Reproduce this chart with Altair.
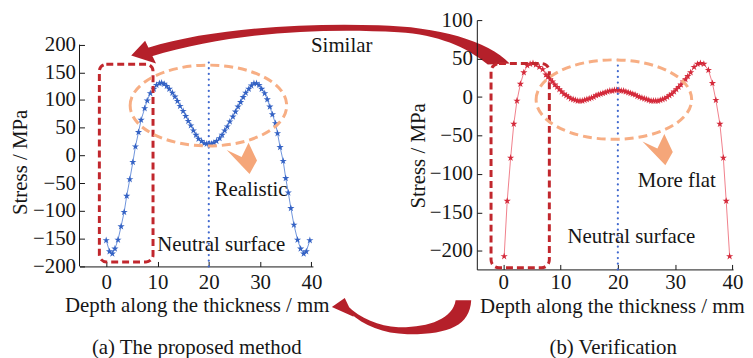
import altair as alt
import pandas as pd

# ---------------- data ----------------
left_depth = [0.0, 0.65, 1.2, 1.7, 2.3, 2.9, 3.5, 4.0, 4.6, 5.2, 5.7, 6.3, 6.8, 7.5, 8.0, 8.6,
              9.3, 9.8, 10.4, 10.8, 11.3, 11.8, 12.3, 12.9, 13.4, 13.9, 14.4, 15.0, 15.5, 16.0,
              16.5, 17.0, 17.5, 18.0, 18.6, 19.1, 19.6, 20.1, 20.5, 21.0, 21.5, 22.1, 22.6, 23.1,
              23.6, 24.1, 24.7, 25.2, 25.7, 26.2, 26.7, 27.2, 27.8, 28.3, 28.8, 29.3, 29.8, 30.3,
              30.9, 31.4, 31.9, 32.4, 33.0, 33.4, 33.9, 34.5, 35.0, 35.5, 36.0, 36.6, 37.3, 37.9,
              38.5, 39.0, 39.7]
left_stress = [-153, -173, -177, -168, -152, -128, -102, -73, -43, -12, 16, 42, 64, 85, 99, 112,
               120, 127, 130, 131, 129, 125, 120, 113, 106, 98, 89, 80, 71, 62,
               54, 45, 37, 30, 26, 22, 21, 21, 21, 23, 26, 31, 37, 45,
               52, 61, 70, 79, 88, 96, 105, 113, 120, 126, 130, 130, 127, 120,
               112, 101, 88, 74, 58, 40, 15, -10, -41, -67, -95, -125, -152, -168,
               -177, -173, -153]

right_depth = [0.17, 0.7, 1.3, 1.85, 2.4, 3.0, 3.6, 4.2, 4.7, 5.2, 5.7, 6.3, 6.9, 7.45,
               7.8, 8.2, 8.6, 9.0, 9.4, 9.8, 10.2, 10.6, 11.0, 11.4, 11.8, 12.2, 12.6, 13.0,
               13.4, 13.8, 14.2, 14.6, 15.0, 15.4, 15.8, 16.2, 16.6, 17.0, 17.4, 17.8, 18.2,
               18.6, 19.0, 19.4, 19.8, 20.2, 20.6, 21.0, 21.4, 21.8, 22.2, 22.6, 23.0, 23.4,
               23.8, 24.2, 24.6, 25.0, 25.4, 25.8, 26.2, 26.6, 27.0, 27.4, 27.8, 28.2, 28.6,
               29.0, 29.4, 29.8, 30.2, 30.6, 31.0, 31.4, 31.8, 32.2,
               32.7, 33.3, 33.9, 34.4, 35.0, 35.8, 36.5, 37.1, 37.8, 38.4, 38.9, 39.5]
right_stress = [-207, -135, -79, -35, -5, 17, 32, 41, 43, 44, 42, 39, 36, 29,
                26, 23, 20, 16, 13, 10, 7, 4, 2, 0, -2, -3, -4, -5,
                -5, -5, -4, -3, -2, -1, 0, 2, 3, 4, 5, 6, 7,
                8, 8, 9, 9, 9, 8, 8, 7, 6, 5, 4, 3, 1,
                0, -1, -2, -3, -4, -5, -5, -5, -5, -4, -3, -2, 0,
                2, 4, 7, 10, 13, 16, 20, 23, 27,
                32, 39, 43, 44, 43, 35, 18, -4, -35, -79, -135, -207]

x_ticks = [0, 10, 20, 30, 40]
left_y_ticks = [-200, -150, -100, -50, 0, 50, 100, 150, 200]
right_y_ticks = [-200, -150, -100, -50, 0, 50, 100]

x_title = "Depth along the thickness / mm"
y_title = "Stress / MPa"
left_notes = ["Similar", "Realistic", "Neutral surface", "(a) The proposed method"]
left_note_x = [45.91, 28.24, 22.43, 17.65]
left_note_y = [186.8, -72.9, -172.6, -357.6]
right_notes = ["More flat", "Neutral surface", "(b) Verification"]
right_note_x = [30.28, 22.36, 19.19]
right_note_y = [-116.5, -189.7, -333.7]

# ---------------- style ----------------
FONT = "Liberation Serif"
FS = 21
INK = "#161616"
BLUE_LINE = "#6f94dc"
BLUE_STAR = "#3462c4"
RED_LINE = "#f0808b"
RED_STAR = "#d42a3b"
DOT_BLUE = "#4169cf"
DASH_RED = "#c1272d"
ORANGE = "#f7ae84"
ORANGE_FILL = "#f5a679"
ARROW = "#b5202a"
STAR_SIZE = 58

LW, LH = 235, 248
RW, RH = 258, 251
xs_L = alt.Scale(domain=[-5.2, 40.3], nice=False, zero=False)
ys_L = alt.Scale(domain=[-200, 244.1], nice=False, zero=False)
xs_R = alt.Scale(domain=[-4.6, 40.1], nice=False, zero=False)
ys_R = alt.Scale(domain=[-224, 100], nice=False, zero=False)

STAR = ("M0,-1L0.225,-0.309L0.951,-0.309L0.363,0.118L0.588,0.809L0,0.382"
        "L-0.588,0.809L-0.363,0.118L-0.951,-0.309L-0.225,-0.309Z")
CHEVRON = "M-14.5,-8.5L0.5,-1.5L7.5,-16L16,2L8.5,15.5Z"


def ellipse_path(rx, ry):
    return f"M{-rx},0A{rx},{ry} 0 1,1 {rx},0A{rx},{ry} 0 1,1 {-rx},0Z"


def rel_path(parts, ax, ay):
    out = []
    for cmd, *pts in parts:
        out.append(cmd + " ".join(f"{x - ax:.1f},{y - ay:.1f}" for x, y in pts))
    return "".join(out)


# arrow glyphs (pixel outlines, anchored at left-panel point depth=40, stress=0)
ANC_X, ANC_Y = 312.45, 153.61
TOP_ARROW = rel_path([
    ("M", (148, 45)), ("C", (210, 26), (300, 20), (380, 22.5)),
    ("C", (440, 24), (490, 38), (512, 61)), ("L", (490, 62)),
    ("C", (468, 44), (440, 32), (400, 29.5)), ("C", (320, 25), (230, 30), (151, 54)), ("Z",),
    ("M", (131, 53)), ("L", (145, 38)), ("L", (156, 61)), ("Z",),
], ANC_X, ANC_Y)
BOTTOM_ARROW = rel_path([
    ("M", (457.7, 299.3)), ("L", (473.3, 299.3)),
    ("C", (472, 325), (450, 334), (409, 333.5)), ("C", (385, 333), (365, 325), (351, 312)),
    ("L", (348, 304)), ("C", (362, 318), (380, 325), (400, 326.5)),
    ("C", (430, 327), (455, 318), (457.7, 299.3)), ("Z",),
    ("M", (333, 306)), ("L", (346, 297)), ("L", (355, 316)), ("Z",),
], ANC_X, ANC_Y)


def X(field, scale, axis=None):
    return alt.X(f"{field}:Q", scale=scale, axis=axis)


def Y(field, scale, axis=None):
    return alt.Y(f"{field}:Q", scale=scale, axis=axis)


def tick_axes(orient, offset, values):
    return alt.Axis(orient=orient, offset=offset, values=values, labels=False, domain=False,
                    ticks=True, tickSize=5, grid=False, title="")


def text_layer(labels, xs, ys, xsc, ysc):
    df = pd.DataFrame({"x": xs, "y": ys, "t": labels})
    return alt.Chart(df).mark_text(font=FONT, fontSize=FS, align="center",
                                   baseline="alphabetic", color=INK).encode(
        x=X("x", xsc), y=Y("y", ysc), text="t:N")


# ---------------- left panel ----------------
dfL = pd.DataFrame({"depth": left_depth, "stress": left_stress})
lineL = alt.Chart(dfL).mark_line(color=BLUE_LINE, strokeWidth=1).encode(
    x=X("depth", xs_L, alt.Axis(values=x_ticks, title=x_title, ticks=False, tickSize=0,
                                labelPadding=5, titlePadding=2, grid=False, domain=True,
                                labelFlush=False, labelOverlap=False, titleX=118)),
    y=Y("stress", ys_L, alt.Axis(values=left_y_ticks, title=y_title, ticks=False, tickSize=0,
                                 domain=False, grid=False, labelPadding=4, titlePadding=2,
                                 labelOverlap=False, titleY=142.7)))
starsL = alt.Chart(dfL).mark_point(shape=STAR, filled=True, size=STAR_SIZE, color=BLUE_STAR,
                                   opacity=1).encode(x=X("depth", xs_L), y=Y("stress", ys_L))
axisL = alt.Chart(pd.DataFrame({"x": [-5.2], "y": [-200], "y2": [200]})).mark_rule(
    color=INK, strokeWidth=1).encode(
    x=X("x", xs_L, tick_axes("top", -LH, x_ticks)),
    y=Y("y", ys_L, tick_axes("right", -LW, left_y_ticks)), y2="y2:Q")
dotL = alt.Chart(pd.DataFrame({"x": [20], "y": [-200], "y2": [168.9]})).mark_rule(
    color=DOT_BLUE, strokeWidth=2.2, strokeDash=[0.1, 5.6], strokeCap="round").encode(
    x=X("x", xs_L), y=Y("y", ys_L), y2="y2:Q")
rectL = alt.Chart(pd.DataFrame({"x": [-1.33], "x2": [9.13], "y": [164.6], "y2": [-191.8]})).mark_rect(
    fillOpacity=0, stroke=DASH_RED, strokeWidth=3, strokeDash=[7, 4], cornerRadius=7).encode(
    x=X("x", xs_L), x2="x2:Q", y=Y("y", ys_L), y2="y2:Q")
ellL = alt.Chart(pd.DataFrame({"x": [19.93], "y": [90.1]})).mark_point(
    shape=ellipse_path(78.8, 40.7), size=4, filled=False, color=ORANGE, strokeWidth=3,
    strokeDash=[9, 5], opacity=1).encode(x=X("x", xs_L), y=Y("y", ys_L))
chevL = alt.Chart(pd.DataFrame({"x": [26.3], "y": [-5.5]})).mark_point(
    shape=CHEVRON, size=4, filled=True, color=ORANGE_FILL, opacity=1).encode(
    x=X("x", xs_L), y=Y("y", ys_L))
arrowsL = alt.Chart(pd.DataFrame({"x": [40, 40], "y": [0, 0], "k": ["top", "bottom"]})).mark_point(
    filled=True, size=4, color=ARROW, opacity=1).encode(
    x=X("x", xs_L), y=Y("y", ys_L),
    shape=alt.Shape("k:N", scale=alt.Scale(domain=["top", "bottom"],
                                           range=[TOP_ARROW, BOTTOM_ARROW]), legend=None))
textL = text_layer(left_notes, left_note_x, left_note_y, xs_L, ys_L)

left = alt.layer(lineL, starsL, axisL, dotL, rectL, ellL, chevL, arrowsL, textL).resolve_axis(
    x="independent", y="independent").properties(width=LW, height=LH)

# ---------------- right panel ----------------
dfR = pd.DataFrame({"depth": right_depth, "stress": right_stress})
lineR = alt.Chart(dfR).mark_line(color=RED_LINE, strokeWidth=1).encode(
    x=X("depth", xs_R, alt.Axis(values=x_ticks, title=x_title, ticks=False, tickSize=0,
                                labelPadding=2, titlePadding=3, grid=False, domain=True,
                                labelFlush=False, labelOverlap=False, titleX=136)),
    y=Y("stress", ys_R, alt.Axis(values=right_y_ticks, title=y_title, ticks=False, tickSize=0,
                                 domain=True, grid=False, labelPadding=4.5, titlePadding=1,
                                 labelOverlap=False, titleY=136.2)))
starsR = alt.Chart(dfR).mark_point(shape=STAR, filled=True, size=STAR_SIZE, color=RED_STAR,
                                   opacity=1).encode(
    x=X("depth", xs_R, tick_axes("top", -RH, x_ticks)),
    y=Y("stress", ys_R, tick_axes("right", -RW, right_y_ticks)))
dotR = alt.Chart(pd.DataFrame({"x": [20], "y": [-224], "y2": [48.8]})).mark_rule(
    color=DOT_BLUE, strokeWidth=2.2, strokeDash=[0.1, 5.6], strokeCap="round").encode(
    x=X("x", xs_R), y=Y("y", ys_R), y2="y2:Q")
rectR = alt.Chart(pd.DataFrame({"x": [-2.12], "x2": [8.05], "y": [43.6], "y2": [-221.9]})).mark_rect(
    fillOpacity=0, stroke=DASH_RED, strokeWidth=3, strokeDash=[7, 4], cornerRadius=8).encode(
    x=X("x", xs_R), x2="x2:Q", y=Y("y", ys_R), y2="y2:Q")
ellR = alt.Chart(pd.DataFrame({"x": [19.31], "y": [-3.3]})).mark_point(
    shape=ellipse_path(78.3, 40.0), size=4, filled=False, color=ORANGE, strokeWidth=3,
    strokeDash=[9, 5], opacity=1).encode(x=X("x", xs_R), y=Y("y", ys_R))
chevR = alt.Chart(pd.DataFrame({"x": [26.81], "y": [-68.7]})).mark_point(
    shape=CHEVRON, size=4, filled=True, color=ORANGE_FILL, opacity=1).encode(
    x=X("x", xs_R), y=Y("y", ys_R))
textR = text_layer(right_notes, right_note_x, right_note_y, xs_R, ys_R)

right = alt.layer(lineR, starsR, dotR, rectR, ellR, chevR, textR).resolve_axis(
    x="independent", y="independent").properties(width=RW, height=RH)

chart = alt.hconcat(left, right, spacing=165, bounds="flush").properties(
    padding={"left": 1, "top": 0, "right": 0, "bottom": 0}
).configure_view(stroke=None).configure_axis(
    labelFont=FONT, labelFontSize=FS, labelColor=INK, titleFont=FONT, titleFontSize=FS,
    titleFontWeight="normal", titleColor=INK, domainColor=INK, domainWidth=1,
    tickColor=INK, tickWidth=1)

chart.save("out.html", embed_options={"renderer": "svg", "actions": False})
